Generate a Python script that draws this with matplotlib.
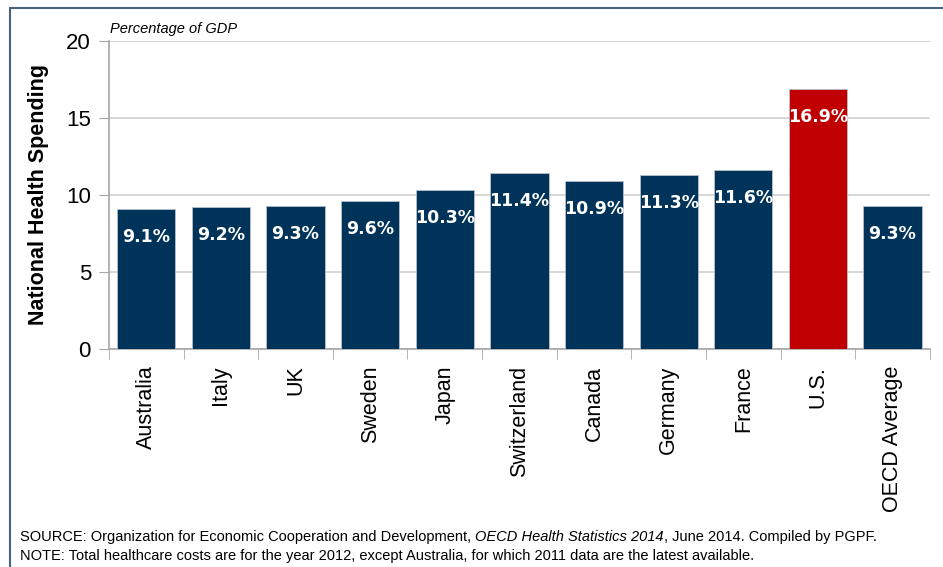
import matplotlib.pyplot as plt
import matplotlib.patches as mpatches
import numpy as np

countries = ["Australia", "Italy", "UK", "Sweden", "Japan", "Switzerland",
             "Canada", "Germany", "France", "U.S.", "OECD Average"]
spending = [9.1, 9.2, 9.3, 9.6, 10.3, 11.4, 10.9, 11.3, 11.6, 16.9, 9.3]
highlight = "U.S."

plt.rcParams['font.family'] = ['Liberation Sans', 'DejaVu Sans']

fig = plt.figure(figsize=(9.43, 5.67), dpi=100, facecolor='white')
ax = fig.add_axes([0.1156, 0.3845, 0.8704, 0.5432])

x = np.arange(len(countries))
bar_colors = ['#C00000' if c == highlight else '#003359' for c in countries]
ax.bar(x, spending, width=0.78, color=bar_colors, edgecolor='#b8c0c8', linewidth=0.6, zorder=3)

# value labels inside the bars, near the top
for xi, v in zip(x, spending):
    ax.annotate("{:.1f}%".format(v), xy=(xi, v), xytext=(0, -20), textcoords='offset points',
                ha='center', va='center', color='white', fontsize=12.5, fontweight='bold',
                family=['DejaVu Sans'], zorder=4)

ax.set_xlim(-0.5, len(countries) - 0.5)
ax.set_ylim(0, 20)
ax.set_yticks([0, 5, 10, 15, 20])
ax.tick_params(axis='y', labelsize=16, length=7, color='#a6a6a6', pad=6)
ax.yaxis.grid(True, color='#d0d0d0', linewidth=1.2, zorder=0)

ax.set_xticks(x)
ax.set_xticklabels(countries, rotation=90, fontsize=15.5)
ax.tick_params(axis='x', length=0, pad=12)
ax.set_xticks(np.arange(-0.5, len(countries)), minor=True)
ax.tick_params(axis='x', which='minor', length=7, color='#a6a6a6')

for s in ['top', 'right']:
    ax.spines[s].set_visible(False)
ax.spines['left'].set_color('#a6a6a6')
ax.spines['bottom'].set_color('#a6a6a6')
ax.spines['left'].set_linewidth(1.2)
ax.spines['bottom'].set_linewidth(1.2)

ax.set_ylabel("National Health Spending", fontsize=15.5, fontweight='bold', labelpad=12)

fig.text(0.117, 0.948, "Percentage of GDP", fontsize=10.5, style='italic', ha='left', va='center')

# source line, in three pieces so the title of the report can be italic
renderer = fig.canvas.get_renderer()
t = fig.text(0.021, 0.053, "SOURCE: Organization for Economic Cooperation and Development, ",
             fontsize=10.5, ha='left', va='center')
for piece, style in [("OECD Health Statistics 2014", 'italic'),
                     (", June 2014. Compiled by PGPF.", 'normal')]:
    t = ax.annotate(piece, xy=(1, 0.5), xycoords=t, xytext=(0, 0), textcoords='offset points',
                    fontsize=10.5, style=style, ha='left', va='center', annotation_clip=False)
    t.draw(renderer)
fig.text(0.021, 0.019, "NOTE: Total healthcare costs are for the year 2012, except Australia, for which 2011 data are the latest available.",
         fontsize=10.5, ha='left', va='center')

# frame around the chart
frame = mpatches.Rectangle((0.0106, -0.05), 1.1, 1.036, transform=fig.transFigure,
                           fill=False, edgecolor='#4a6285', linewidth=1.5)
fig.patches.append(frame)

fig.savefig("out.png", dpi=100, facecolor='white')
